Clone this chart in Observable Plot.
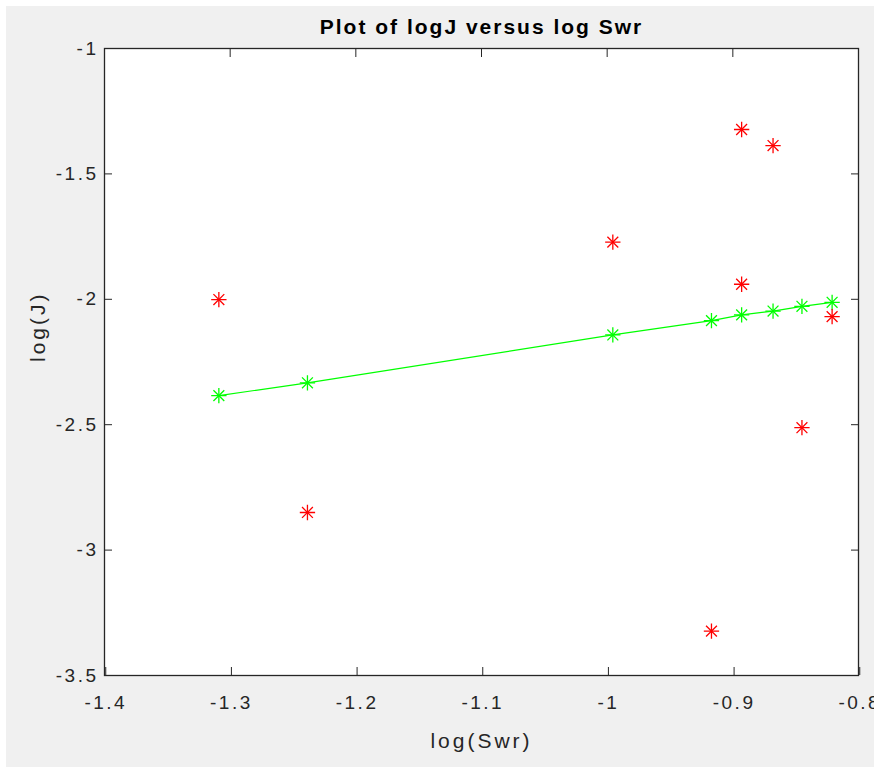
<!DOCTYPE html>
<html>
<head>
<meta charset="utf-8">
<script src="https://cdn.jsdelivr.net/npm/d3@7"></script>
<script src="https://cdn.jsdelivr.net/npm/@observablehq/plot@0.6"></script>
<style>
  html, body { margin: 0; padding: 0; background: #ffffff; }
  #chart svg { display: block; background: #f0f0f0; box-shadow: inset 6px 6px 0 0 #ffffff; }
  #chart svg g[aria-label="x-axis tick label"] text,
  #chart svg g[aria-label="y-axis tick label"] text { letter-spacing: 2.5px; }
</style>
</head>
<body>
<div id="chart"></div>
<script>
// Fitted line points (green)
const fitX = [-1.309, -1.2385, -0.9955, -0.917, -0.893, -0.868, -0.845, -0.821];
const fitY = [-2.384, -2.333, -2.142, -2.085, -2.062, -2.047, -2.028, -2.012];
// Observed points (red)
const obsX = [-1.309, -1.2385, -0.9955, -0.917, -0.893, -0.893, -0.868, -0.845, -0.821];
const obsY = [-2.001, -2.850, -1.772, -3.323, -1.323, -1.940, -1.387, -2.512, -2.069];
// Axis ticks
const xTicks = [-1.4, -1.3, -1.2, -1.1, -1, -0.9, -0.8];
const yTicks = [-1, -1.5, -2, -2.5, -3, -3.5];
const titleText = "Plot of logJ versus log Swr";
const xLabel = "log(Swr)";
const yLabel = "log(J)";

const fit = fitX.map((x, i) => ({x, y: fitY[i]}));
const obs = obsX.map((x, i) => ({x, y: obsY[i]}));

const font = "Liberation Sans, Arial, Helvetica, sans-serif";
const axisColor = "#262626";
const tickFmt = d => String(d);

const star = (data, color) => [
  Plot.dot(data, {x: "x", y: "y", symbol: "plus", r: 5, stroke: color, strokeWidth: 1.3}),
  Plot.dot(data, {x: "x", y: "y", symbol: "times", r: 5, stroke: color, strokeWidth: 1.3})
];

const chart = Plot.plot({
  width: 874,
  height: 767,
  marginLeft: 104,
  marginRight: 16,
  marginTop: 48,
  marginBottom: 92,
  style: {fontFamily: font, fontSize: "19px", color: axisColor, background: "#f0f0f0", overflow: "visible"},
  x: {domain: [-1.4, -0.8], ticks: xTicks, tickFormat: tickFmt},
  y: {domain: [-3.5, -1], ticks: yTicks, tickFormat: tickFmt},
  marks: [
    Plot.frame({fill: "white", stroke: "none"}),
    Plot.axisX({anchor: "bottom", ticks: xTicks, tickSize: -8, tickPadding: 28, tickFormat: tickFmt, label: null, stroke: axisColor, fill: axisColor, fontSize: 19, dx: 1.25}),
    Plot.axisX({anchor: "top", ticks: xTicks, tickSize: -8, label: null, stroke: axisColor, text: null}),
    Plot.axisY({anchor: "left", ticks: yTicks, tickSize: -8, tickPadding: 14, tickFormat: tickFmt, label: null, stroke: axisColor, fill: axisColor, fontSize: 19}),
    Plot.axisY({anchor: "right", ticks: yTicks, tickSize: -8, label: null, stroke: axisColor, text: null}),
    Plot.frame({stroke: axisColor, strokeWidth: 1.3}),
    Plot.line(fit, {x: "x", y: "y", stroke: "#00ff00", strokeWidth: 1.2}),
    ...star(fit, "#00ff00"),
    ...star(obs, "#ff0000"),
    Plot.text([titleText], {frameAnchor: "top", lineAnchor: "middle", dy: -21, fontSize: 21, fontWeight: "bold", fill: "#000000"}),
    Plot.text([xLabel], {frameAnchor: "bottom", lineAnchor: "middle", dy: 66, fontSize: 21, fill: axisColor}),
    Plot.text([yLabel], {frameAnchor: "left", lineAnchor: "middle", dx: -66, rotate: -90, fontSize: 21, fill: axisColor})
  ]
});

// letter spacing to match the wide glyph rendering of the original
const textGroups = d3.select(chart).selectAll('g[aria-label="text"]').nodes();
d3.select(textGroups[0]).selectAll("text").style("letter-spacing", "2px");
d3.select(textGroups[1]).selectAll("text").style("letter-spacing", "3px");
d3.select(textGroups[2]).selectAll("text").style("letter-spacing", "3px");

document.getElementById("chart").appendChild(chart);
</script>
</body>
</html>
